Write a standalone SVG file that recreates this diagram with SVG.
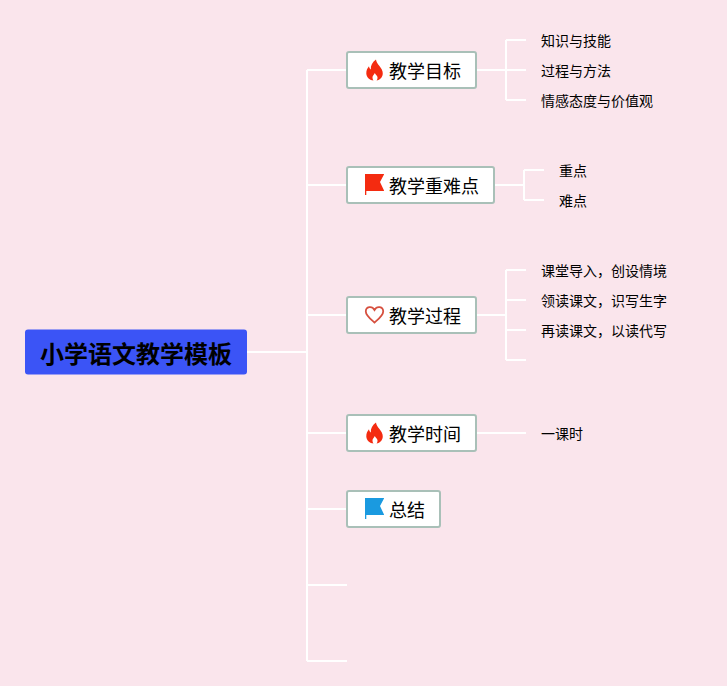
<svg xmlns="http://www.w3.org/2000/svg" width="727" height="686" viewBox="0 0 727 686">
<defs>
<style>
text{font-family:"Noto Sans CJK SC","Noto Sans",sans-serif;fill:#000}
.c{fill:none;stroke:#fff;stroke-width:2}
.b{fill:#fff;stroke:#a9c0b8;stroke-width:2}
.t{font-size:18px}
.s{font-size:14px}
</style>
<path id="fire" d="M10.500 0C11 4 14.500 6.500 16.300 10C17.800 13 17.500 16 16 18C14.500 20 12.500 21 11 21C12 20 12 18.800 12 17.800C12 16 10 15.500 9.300 13.500C8.500 15.500 7 16 7 17.800C7 18.800 7.200 20 8 21C4.500 21 1 18 0.800 14C0.700 11 2 8.500 3.500 6.800C3.800 8.500 4.400 9.500 5.300 10C5 6 7 2.500 10.500 0Z" fill="#f42b10"/>
<path id="flag" d="M0 0H19V0.500L15 8L19 16.500V17H1.300V21H0Z"/>
</defs>
<rect width="727" height="686" fill="#fae5ec"/>
<g id="connectors" class="c">
<path class="c" d="M247 352H307M307 70V661M307 70H347M307 185H347M307 315H347M307 433H347M307 509H347M307 585H347M307 661H347"/>
<path class="c" d="M477 70H526M506 40V100M506 40H526M506 100H526"/>
<path class="c" d="M495 185H524M524 170V200M524 170H544M524 200H544"/>
<path class="c" d="M477 315H506M506 270V360M506 270H526M506 300H526M506 330H526M506 360H526"/>
<path class="c" d="M477 433H526"/>
</g>
<g id="root"><rect x="25" y="329.500" width="222" height="45" rx="3" fill="#3b54f6"/><text x="136" y="362.500" font-size="24" font-weight="700" text-anchor="middle">小学语文教学模板</text></g>
<g id="n1"><rect class="b" x="347" y="52" width="129" height="36" rx="2"/><use href="#fire" x="365.500" y="59.500"/><text class="t" x="389" y="78">教学目标</text></g>
<g id="n2"><rect class="b" x="347" y="167" width="147" height="36" rx="2"/><use href="#flag" x="365" y="174" fill="#f42b10"/><text class="t" x="389" y="193">教学重难点</text></g>
<g id="n3"><rect class="b" x="347" y="297" width="129" height="36" rx="2"/><path d="M374.500 322.500C370 318.500 365.800 315.500 365.800 311.500C365.800 306.500 372 305.500 374.500 310C377 305.500 383.200 306.500 383.200 311.500C383.200 315.500 379 318.500 374.500 322.500Z" fill="none" stroke="#d6503f" stroke-width="1.800"/><text class="t" x="389" y="323">教学过程</text></g>
<g id="n4"><rect class="b" x="347" y="415" width="129" height="36" rx="2"/><use href="#fire" x="365.500" y="422.500"/><text class="t" x="389" y="441">教学时间</text></g>
<g id="n5"><rect class="b" x="347" y="491" width="93" height="36" rx="2"/><use href="#flag" x="365" y="498" fill="#1a9ae0"/><text class="t" x="389" y="517">总结</text></g>
<g id="l1"><text class="s" x="541" y="46">知识与技能</text></g>
<g id="l2"><text class="s" x="541" y="76">过程与方法</text></g>
<g id="l3"><text class="s" x="541" y="106">情感态度与价值观</text></g>
<g id="l4"><text class="s" x="559" y="176">重点</text></g>
<g id="l5"><text class="s" x="559" y="206">难点</text></g>
<g id="l6"><text class="s" x="541" y="276">课堂导入，创设情境</text></g>
<g id="l7"><text class="s" x="541" y="306">领读课文，识写生字</text></g>
<g id="l8"><text class="s" x="541" y="336">再读课文，以读代写</text></g>
<g id="l9"><text class="s" x="541" y="439">一课时</text></g>
</svg>
